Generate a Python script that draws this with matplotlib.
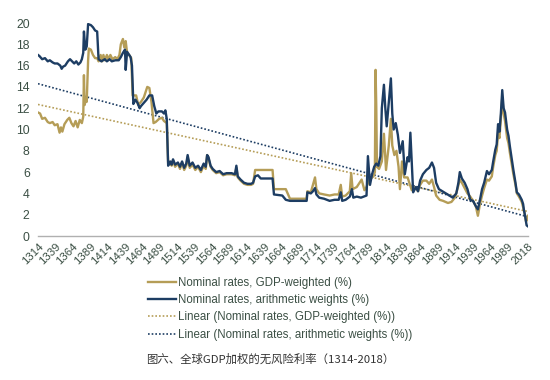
import matplotlib
matplotlib.use("Agg")
import matplotlib.pyplot as plt

# ---- data ----
gdp_years = [1314,1317,1320,1324,1328,1331,1335,1338,1342,1345,1347,1349,1352,1356,1359,1362,1365,1368,1371,1374,1377,1379,
             1380,1381,1383,1384,1386,1387,1390,1393,1396,1399,1401,1404,1406,1408,1410,1413,1415,1418,1421,1425,1428,1431,
             1433,1436,1438,1440,1442,1445,1448,1450,1455,1458,1462,1466,1471,1474,1477,1480,1483,1488,1492,1495,1499,1501,
             1504,1506,1508,1511,1515,1518,1521,1524,1527,1529,1532,1536,1540,1544,1548,1552,1555,1557,1559,1562,1565,1570,
             1575,1580,1585,1592,1597,1599,1601,1605,1610,1615,1620,1623,1626,1651,1653,1665,1670,1676,1700,1701,1706,1712,
             1714,1718,1725,1733,1740,1746,1749,1751,1756,1762,1764,1766,1772,1779,1783,1786,1790,1796,1798,1799,1800,1801,
             1804,1808,1811,1814,1818,1821,1823,1826,1829,1832,1834,1837,1840,1845,1849,1851,1853,1857,1860,1863,1867,1872,
             1876,1880,1883,1886,1891,1896,1903,1908,1913,1917,1920,1923,1927,1931,1935,1939,1943,1946,1949,1952,1955,1959,
             1962,1966,1968,1971,1973,1975,1977,1979,1981,1983,1985,1988,1990,1992,1994,1997,2000,2002,2005,2009,2011,2013,
             2015,2017,2018]
gdp_values = [11.6,11.5,11.0,11.1,10.7,10.6,10.7,10.4,10.5,9.7,10.2,9.8,10.5,10.9,11.1,10.6,10.3,10.8,10.2,10.9,10.6,11.2,
              15.1,12.3,12.9,12.6,16.5,17.6,17.5,17.0,16.7,16.7,16.4,17.0,16.4,17.0,16.5,17.0,16.6,17.0,16.6,16.8,16.6,17.0,
              18.0,18.5,17.7,18.3,17.2,17.0,16.7,13.2,13.2,12.3,12.6,13.0,14.0,13.9,12.6,10.6,10.7,11.0,11.1,10.8,10.6,6.8,
              6.9,6.6,7.1,6.5,6.8,6.3,6.9,6.2,6.6,7.4,6.4,6.7,6.2,6.5,6.0,6.6,6.3,7.6,7.3,6.5,6.2,5.9,
              6.0,5.7,5.8,5.8,5.7,6.4,5.5,5.2,4.9,4.8,4.8,4.9,6.2,6.2,4.4,4.4,4.4,3.5,3.5,4.2,4.1,5.5,
              4.4,4.0,3.9,3.8,3.9,3.9,4.8,3.7,3.8,4.2,5.9,4.4,4.6,5.3,4.3,4.6,5.3,5.6,6.0,15.6,12.2,6.5,
              6.3,7.0,9.6,6.2,8.5,11.0,8.5,7.6,8.0,6.5,4.4,7.0,5.5,5.5,4.7,4.3,4.4,4.5,4.2,4.8,5.2,5.2,
              4.9,5.3,4.6,3.8,3.4,3.3,3.1,3.2,3.6,4.5,5.3,5.0,4.5,4.0,3.7,3.3,2.8,1.9,3.0,3.8,4.5,5.3,
              5.2,5.6,6.5,7.6,8.0,9.6,9.2,11.0,13.0,11.5,10.8,9.2,8.7,7.8,7.0,5.8,4.8,4.0,3.7,3.2,2.7,2.2,
              1.4,1.5,1.9]

arith_years = [1314,1316,1320,1324,1328,1331,1335,1338,1342,1346,1348,1350,1353,1357,1360,1363,1366,1369,1372,1375,1377,1379,
               1380,1382,1384,1386,1390,1393,1396,1399,1401,1405,1410,1413,1417,1420,1425,1430,1433,1436,1439,1440,1442,1445,
               1447,1449,1451,1454,1457,1460,1462,1466,1470,1474,1478,1481,1484,1487,1492,1495,1497,1499,1501,
               1504,1506,1508,1511,1515,1518,1521,1524,1527,1529,1532,1536,1540,1544,1548,1552,1555,1557,1559,1562,1565,1570,
               1575,1580,1585,1592,1597,1599,1601,1605,1610,1615,1620,1623,1626,1630,1634,1651,1653,1665,1670,1676,1700,1701,
               1706,1709,1712,1714,1718,1725,1733,1740,1746,1749,1751,1756,1762,1765,1767,1772,1778,1782,1786,1788,1791,1794,
               1797,1800,1803,1806,1808,1811,1813,1815,1818,1821,1823,1825,1828,1831,1834,1838,1841,1845,1847,1849,1851,1853,
               1857,1860,1863,1867,1872,1876,1880,1883,1886,1890,1895,1900,1905,1910,1915,1918,1920,1923,1927,1931,1935,1939,
               1943,1946,1949,1952,1955,1959,1962,1966,1968,1971,1973,1975,1977,1979,1981,1983,1985,1988,1990,1992,1994,1997,
               2000,2002,2005,2009,2011,2012,2014,2016,2018]
arith_values = [17.0,16.9,16.6,16.7,16.4,16.5,16.3,16.2,16.2,16.0,15.7,15.9,16.0,16.4,16.6,16.4,16.2,16.4,16.1,16.3,16.6,17.2,
                19.2,17.5,17.8,19.9,19.8,19.6,19.3,19.2,16.6,16.4,16.6,16.4,16.6,16.4,16.5,16.5,16.8,17.2,17.5,15.6,17.3,17.0,
                16.8,16.0,12.4,12.8,12.5,12.0,12.2,12.5,12.8,13.2,13.2,12.2,11.5,11.7,11.7,11.5,11.8,11.0,6.6,
                7.0,6.7,7.2,6.7,6.9,6.5,7.0,6.4,6.8,7.6,6.6,6.9,6.4,6.6,6.2,6.8,6.5,7.6,7.4,6.6,6.3,6.0,
                6.1,5.8,5.9,5.9,5.8,6.6,5.6,5.3,5.0,4.9,4.9,5.0,5.6,5.7,5.4,5.4,3.9,3.8,3.4,3.3,3.3,4.1,
                4.0,4.2,4.5,3.9,3.6,3.5,3.3,3.4,3.4,4.1,3.3,3.4,3.7,4.4,3.6,3.7,3.6,3.7,3.8,7.5,4.8,5.8,
                6.5,6.8,6.6,7.5,12.0,14.2,12.0,10.3,12.5,14.8,11.5,10.0,10.6,9.5,7.8,8.9,5.8,7.4,7.0,9.7,7.0,4.1,
                4.6,4.2,5.2,5.8,6.2,6.4,6.9,6.4,5.0,4.4,4.2,4.0,3.8,3.6,4.0,5.0,6.0,5.4,5.0,4.4,3.4,3.3,
                2.8,2.5,3.4,4.4,5.0,6.1,5.8,6.2,7.0,8.1,8.6,10.5,9.8,11.5,13.7,12.0,11.6,10.0,9.4,8.4,7.5,6.2,
                5.0,4.1,3.9,3.4,3.0,2.5,1.8,1.0,0.9]

# linear trend lines (end values)
trend_years = [1314, 2018]
gdp_trend = [12.35, 2.3]
arith_trend = [14.3, 1.8]

tick_years = [1314,1339,1364,1389,1414,1439,1464,1489,1514,1539,1564,1589,1614,1639,1664,1689,1714,1739,1764,1789,
              1814,1839,1864,1889,1914,1939,1964,1989,2018]
y_ticks = [0, 2, 4, 6, 8, 10, 12, 14, 16, 18, 20]

labels = ["Nominal rates, GDP-weighted (%)",
          "Nominal rates, arithmetic weights (%)",
          "Linear (Nominal rates, GDP-weighted (%))",
          "Linear (Nominal rates, arithmetic weights (%))"]
caption = "图六、全球GDP加权的无风险利率（1314-2018）"

# ---- style ----
GOLD = "#b59d57"
NAVY = "#1d3d63"
TXT = "#3b4f44"

plt.rcParams['font.family'] = ['Liberation Sans', 'DejaVu Sans']

fig = plt.figure(figsize=(5.5, 3.8), dpi=100)
ax = fig.add_axes([38/550, 1-236/380, 490/550, 213/380])

ax.plot(gdp_years, gdp_values, color=GOLD, lw=1.7, label=labels[0], zorder=3)
ax.plot(arith_years, arith_values, color=NAVY, lw=1.7, label=labels[1], zorder=4)
ax.plot(trend_years, gdp_trend, color=GOLD, lw=1.2, ls=(0, (1, 1.2)), label=labels[2], zorder=2)
ax.plot(trend_years, arith_trend, color=NAVY, lw=1.2, ls=(0, (1, 1.2)), label=labels[3], zorder=2)

ax.set_xlim(1314, 2018)
ax.set_ylim(0, 20)
ax.set_xticks(tick_years)
ax.set_xticklabels([str(y) for y in tick_years], rotation=45, ha='right', rotation_mode='anchor',
                   fontsize=8.2, color=TXT)
ax.set_yticks(y_ticks)
ax.set_yticklabels([str(v) for v in y_ticks], fontsize=8.8, color=TXT)
ax.tick_params(axis='both', length=0)
ax.tick_params(axis='x', pad=4)
ax.tick_params(axis='y', pad=6)
for s in ['top', 'right', 'left']:
    ax.spines[s].set_visible(False)
ax.spines['bottom'].set_color('#b0b0b0')
ax.spines['bottom'].set_linewidth(1.0)
ax.spines['bottom'].set_bounds(1314, 2018)

leg = fig.legend(loc='upper left', bbox_to_anchor=(148/550, 1-277/380), frameon=False,
                 fontsize=8.3, handlelength=2.4, handletextpad=0.2, labelspacing=0.45,
                 borderaxespad=0, borderpad=0)
for t in leg.get_texts():
    t.set_color(TXT)

fig.text(270/550, 1-359/380, caption, ha='center', va='center', fontsize=8.2, color='#333333',
         family=['Noto Sans CJK SC', 'DejaVu Sans'])

fig.savefig('out.png', dpi=100, facecolor='white')
